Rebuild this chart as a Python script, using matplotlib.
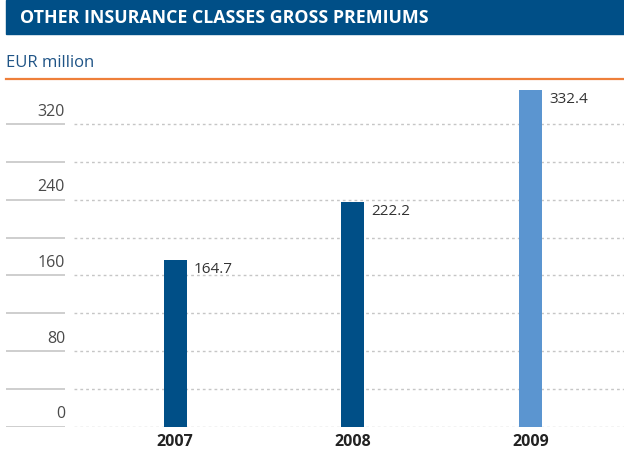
import numpy as np
import matplotlib
matplotlib.use("Agg")
import matplotlib.pyplot as plt
from matplotlib.lines import Line2D
from matplotlib.patches import Rectangle
from matplotlib.transforms import offset_copy

years = ["2007", "2008", "2009"]
premiums = [164.7, 222.2, 332.4]
bar_colors = ["#004f87", "#004f87", "#5b95d0"]
grid_values = np.arange(0, 321, 40)
tick_values = [0, 80, 160, 240, 320]

plt.rcParams["font.family"] = ["Open Sans", "DejaVu Sans"]

W, H = 624, 468
fig = plt.figure(figsize=(W / 100, H / 100), dpi=100)

# header bar
fig.patches.append(Rectangle((6 / W, 1 - 33.5 / H), 618 / W, 33.5 / H,
                             transform=fig.transFigure, color="#004f87", zorder=0))
fig.text(20 / W, 1 - 18 / H, "OTHER INSURANCE CLASSES GROSS PREMIUMS",
         color="white", fontsize=12.8, fontweight="bold", va="center", ha="left")
fig.text(6 / W, 1 - 63 / H, "EUR million", color="#1f5486", fontsize=12,
         va="center", ha="left")
fig.lines.append(Line2D([6 / W, 1], [1 - 79 / H] * 2, transform=fig.transFigure,
                        color="#ee7f3a", lw=1.6))

# main axis (gridlines + labels)
ax = fig.add_axes([6 / W, (H - 426.7) / H, 618 / W, 346.7 / H])
ax.set_ylim(0, 346.7 / 0.946)
ax.set_xlim(-0.952, 2.525)
for s in ax.spines.values():
    s.set_visible(False)
ax.set_yticks([])
ytr = ax.get_yaxis_transform()
ax.hlines(grid_values, 0, 59 / 618, transform=ytr, color="#c6c6c6", lw=1.2)
ax.hlines(grid_values, 68 / 618, 1, transform=ytr, color="#c6c6c6", lw=1.0,
          linestyles=(0, (2, 2.2)))
lbl_tr = offset_copy(ytr, fig=fig, x=0, y=6, units="points")
for v in tick_values:
    ax.text(59 / 618, v, str(v), transform=lbl_tr, ha="right", va="baseline",
            fontsize=11.5, color="#4a4a4a")

x = np.arange(len(years))
ax.set_xticks(x)
ax.set_xticklabels(years, fontsize=11.5, fontweight="bold", color="#222222")
ax.tick_params(axis="x", length=0, pad=5)

# bars on their own scale, as in the original chart
ax2 = ax.twinx()
ax2.set_ylim(0, 332.4 * 346.7 / 336.7)
ax2.axis("off")
w = 23 / 178
ax2.bar(x, premiums, width=w, color=bar_colors, zorder=3)
for xi, v in zip(x, premiums):
    t = offset_copy(ax2.transData, fig=fig, x=5, y=-1.5, units="points")
    ax2.text(xi + w / 2, v, f"{v:.1f}", transform=t, ha="left", va="top",
             fontsize=11, color="#333333")

fig.savefig("out.png", dpi=100)
